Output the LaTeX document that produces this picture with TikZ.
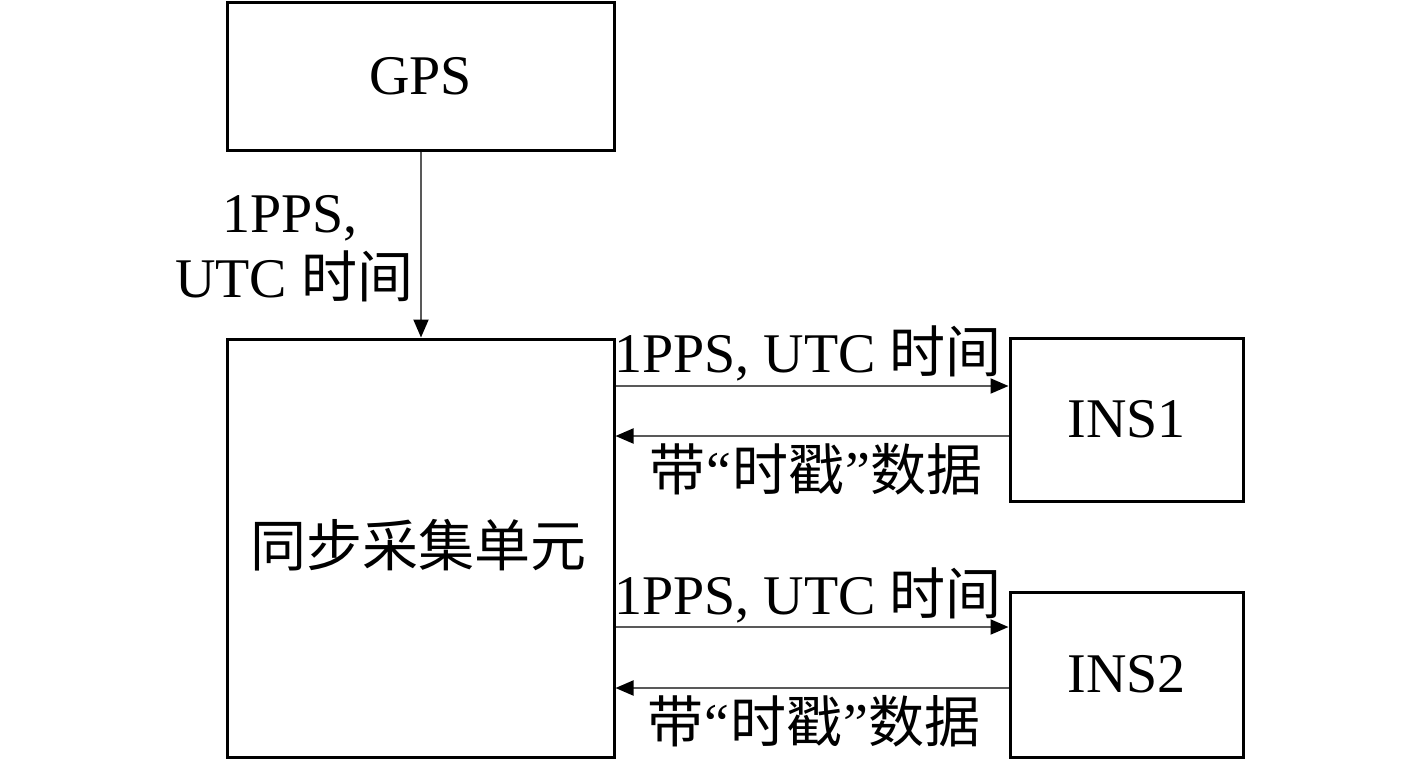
\documentclass[tikz,border=0pt]{standalone}
\usepackage{fontspec}
\setmainfont{Liberation Serif}
\newfontfamily\cjk{Noto Sans CJK SC}
\usetikzlibrary{arrows.meta}
\newcommand{\stampdata}{{\cjk 带}\kern1pt“\kern1pt{\cjk 时戳}\kern1pt”\kern1pt{\cjk 数据}}
\begin{document}
\begin{tikzpicture}[x=1pt,y=-1pt,
  box/.style={draw=black,line width=3pt,inner sep=0pt},
  lbl/.style={font=\fontsize{56}{65}\selectfont,inner sep=0pt},
  sig/.style={draw=black!65,line width=2pt,-{Triangle[length=18pt,width=15pt,color=black]}}]
\useasboundingbox[fill=white] (0,0) rectangle (1417,761);
% boxes
\node[box,minimum width=387pt,minimum height=148pt] (gps) at (420.5,76) {};
\node[lbl] at (gps.center) {GPS};
\node[box,minimum width=387pt,minimum height=418pt] (sync) at (420.5,548) {};
\node[lbl] at (418,545) {\cjk 同步采集单元};
\node[box,minimum width=233pt,minimum height=163pt] (ins1) at (1126.5,419.5) {};
\node[lbl] at (ins1.center) {INS1};
\node[box,minimum width=233pt,minimum height=165pt] (ins2) at (1126.5,674.5) {};
\node[lbl] at (ins2.center) {INS2};
% GPS -> sync
\draw[sig] (gps.south -| 421,0) -- (sync.north -| 421,0);
\node[lbl,anchor=base] (l0a) at (290,232) {1PPS,};
\node[lbl,anchor=base] (l0b) at (294,297) {UTC {\cjk 时间}};
% sync <-> INS1
\draw[sig] (sync.east |- 0,386) -- (ins1.west |- 0,386);
\draw[sig] (ins1.west |- 0,436) -- (sync.east |- 0,436);
\node[lbl,anchor=base] (l1) at (808,372) {1PPS, UTC {\cjk 时间}};
\node[lbl,anchor=base] (l2) at (816,490) {\stampdata};
% sync <-> INS2
\draw[sig] (sync.east |- 0,627) -- (ins2.west |- 0,627);
\draw[sig] (ins2.west |- 0,688) -- (sync.east |- 0,688);
\node[lbl,anchor=base] (l3) at (808,614) {1PPS, UTC {\cjk 时间}};
\node[lbl,anchor=base] (l4) at (814,742) {\stampdata};
\end{tikzpicture}
\end{document}
